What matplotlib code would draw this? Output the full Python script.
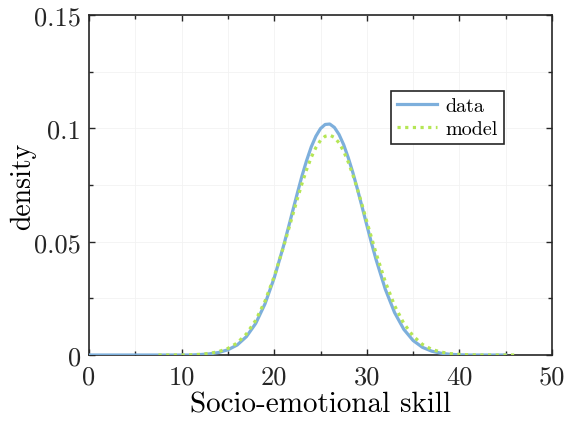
import matplotlib
matplotlib.use("Agg")
import matplotlib.pyplot as plt
from matplotlib.ticker import MultipleLocator, FixedLocator

plt.rcParams['font.family'] = 'serif'
plt.rcParams['font.serif'] = ['cmr10']
plt.rcParams['mathtext.fontset'] = 'cm'
plt.rcParams['axes.unicode_minus'] = False

data_x = [0, 1, 2, 3, 4, 5, 6, 7, 8, 9, 10, 11, 12, 13, 14, 15, 16, 17, 18, 19, 20,
          21, 21.5, 22, 22.5, 23, 23.5, 24, 24.5, 25, 25.5, 26, 26.5, 27, 27.5, 28,
          28.5, 29, 29.5, 30, 30.5, 31, 32, 33, 34, 35, 36, 37, 38,
          39, 40, 41, 42, 43, 44, 45]
data_y = [0, 0, 0, 0, 0, 0, 0, 0, 0, 0, 0, 0, 0.0002, 0.0005, 0.0011, 0.0023, 0.0044,
          0.0081, 0.0139, 0.0225, 0.0340, 0.0480, 0.0557, 0.0636, 0.0714, 0.0790,
          0.0858, 0.0918, 0.0965, 0.0999, 0.1017, 0.1019, 0.1004, 0.0973, 0.0928,
          0.0870, 0.0804, 0.0730, 0.0652, 0.0573, 0.0495, 0.0421, 0.0290, 0.0187,
          0.0113, 0.0064, 0.0034, 0.0017, 0.0008, 0.0003, 0.0001, 0, 0, 0, 0, 0]

model_x = [7.5, 8, 9, 10, 11, 12, 13, 14, 15, 16, 17, 18, 19, 20, 21, 21.5, 22, 22.5,
           23, 23.5, 24, 24.5, 25, 25.5, 26, 26.5, 27, 27.5, 28, 28.5, 29, 29.5, 30,
           30.5, 31, 32, 33, 34, 35, 36, 37, 38, 39, 40, 41, 42, 43, 44, 45, 46]
model_y = [0, 0, 0, 0, 0.0001, 0.0003, 0.0007, 0.0015, 0.0029, 0.0053, 0.0093,
           0.0153, 0.0237, 0.0346, 0.0476, 0.0547, 0.0618, 0.0689, 0.0756, 0.0818,
           0.0872, 0.0915, 0.0947, 0.0965, 0.0970, 0.0960, 0.0936, 0.0899, 0.0851,
           0.0794, 0.0730, 0.0661, 0.0589, 0.0519, 0.0449, 0.0323, 0.0218, 0.0139,
           0.0084, 0.0047, 0.0025, 0.0013, 0.0006, 0.0003, 0.0001, 0, 0, 0, 0, 0]

x_ticks = [0, 10, 20, 30, 40, 50]
y_ticks = [0, 0.05, 0.1, 0.15]
y_ticklabels = ['0', '0.05', '0.1', '0.15']

fig = plt.figure(figsize=(5.74, 4.35), dpi=100)
ax = fig.add_axes([89/574, 79/435, 463/574, 340/435])

ax.plot(data_x, data_y, color='#7DAFDC', lw=2.3, label='data', zorder=3)
ax.plot(model_x, model_y, color='#B5E655', lw=2.3, ls=(0, (1, 1.4)), label='model', zorder=4)

ax.set_xlim(0, 50)
ax.set_ylim(0, 0.15)
ax.xaxis.set_major_locator(FixedLocator(x_ticks))
ax.yaxis.set_major_locator(FixedLocator(y_ticks))
ax.set_yticklabels(y_ticklabels)
ax.xaxis.set_minor_locator(MultipleLocator(5))
ax.yaxis.set_minor_locator(MultipleLocator(0.025))
ax.tick_params(which='both', direction='in', top=True, right=True, labelsize=19,
               colors='#262626', width=1)
ax.tick_params(which='major', length=4)
ax.tick_params(which='minor', length=3)
ax.tick_params(axis='x', which='major', pad=7)
ax.tick_params(axis='y', which='major', pad=6)
ax.grid(which='both', color='#f2f2f2', lw=0.6)
ax.set_axisbelow(True)
for s in ax.spines.values():
    s.set_linewidth(1.2)
    s.set_color('#262626')

ax.set_xlabel('Socio-emotional skill', fontsize=21, labelpad=2)
ax.set_ylabel('density', fontsize=20, labelpad=-2)

leg = ax.legend(loc='upper left', bbox_to_anchor=(0.652, 0.776), fontsize=14.5,
                frameon=True, fancybox=False, edgecolor='#262626', framealpha=1,
                handlelength=2.0, borderpad=0.3, labelspacing=0.25, handletextpad=0.4,
                borderaxespad=0)
leg.get_frame().set_linewidth(1.2)

fig.savefig('out.png', dpi=100)
